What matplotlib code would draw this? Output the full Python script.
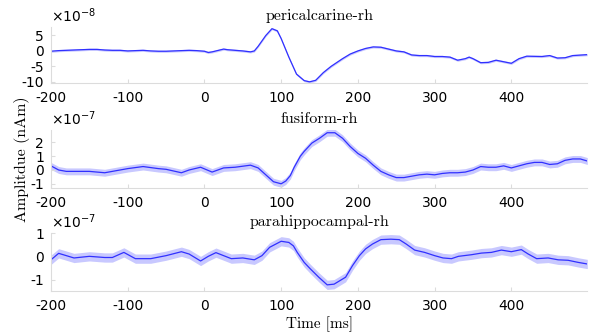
import numpy as np
import matplotlib
matplotlib.use('Agg')
import matplotlib.pyplot as plt

plt.rcParams['axes.unicode_minus'] = False

# pericalcarine-rh, units of 1e-8
t_peri = [-200, -190, -180, -170, -160, -150, -140, -130, -120, -110, -100, -90, -80,
          -70, -60, -50, -40, -30, -20, -10, 0, 5, 10, 20, 25, 30, 40, 50, 60, 65, 70,
          80, 88, 95, 100, 110, 120, 130, 137, 145, 155, 165, 180, 190, 200, 210, 220,
          230, 240, 250, 260, 270, 280, 290, 300, 310, 320, 330, 340, 345, 350, 360,
          370, 380, 390, 400, 410, 420, 440, 450, 460, 470, 480, 499]
v_peri = [-0.1, 0.1, 0.2, 0.3, 0.4, 0.5, 0.5, 0.3, 0.2, 0.2, 0.0, 0.1, 0.2,
          0.0, -0.1, -0.1, 0.0, 0.1, 0.2, 0.1, -0.1, -0.5, -0.3, 0.3, 0.6, 0.4, 0.2,
          0.0, -0.3, 0.0, 1.5, 5.0, 7.2, 6.5, 4.0, -2.0, -7.5, -9.6, -10.0, -9.5,
          -7.0, -5.0, -2.5, -1.0, 0.0, 0.8, 1.3, 1.2, 0.6, 0.0, -0.3, -1.3, -1.5,
          -1.5, -1.8, -1.8, -2.0, -3.0, -2.5, -2.0, -2.5, -3.8, -3.7, -3.0, -3.5,
          -4.0, -2.5, -1.7, -1.8, -1.5, -2.3, -2.2, -1.5, -1.2]
err_peri = 0.35

# fusiform-rh, units of 1e-7
t_fusi = [-200, -190, -180, -150, -130, -110, -100, -80, -60, -50, -30, -20, -5,
          10, 25, 40, 60, 70, 80, 90, 100, 106, 112, 117, 125, 130, 140, 150, 160,
          170, 180, 190, 200, 210, 220, 230, 240, 250, 260, 270, 280, 290, 300,
          310, 320, 330, 340, 350, 360, 370, 380, 390, 400, 410, 420, 430, 440,
          450, 460, 470, 480, 490, 499]
v_fusi = [0.3, 0.0, -0.1, -0.1, -0.2, 0.0, 0.1, 0.25, 0.1, 0.05, -0.2, 0.0, 0.2,
          -0.15, 0.15, 0.2, 0.35, 0.15, -0.35, -0.85, -1.0, -0.8, -0.4, 0.2, 1.0,
          1.35, 1.95, 2.3, 2.7, 2.7, 2.3, 1.7, 1.2, 0.85, 0.35, -0.1, -0.35, -0.55,
          -0.55, -0.45, -0.35, -0.3, -0.35, -0.25, -0.2, -0.2, -0.15, 0.0, 0.25,
          0.2, 0.2, 0.3, 0.15, 0.3, 0.45, 0.55, 0.55, 0.4, 0.45, 0.7, 0.8, 0.8, 0.65]
err_fusi = 0.25

# parahippocampal-rh, units of 1e-7
t_para = [-200, -190, -180, -170, -150, -130, -120, -105, -90, -70, -50, -30, -20,
          -5, 5, 15, 25, 35, 50, 65, 75, 85, 100, 110, 116, 121, 130, 138, 149,
          160, 169, 184, 193, 202, 210, 219, 230, 243, 254, 263, 274, 287, 300,
          311, 322, 331, 348, 361, 374, 387, 400, 413, 422, 433, 448, 461, 474,
          487, 499]
v_para = [-0.15, 0.13, 0.03, -0.07, 0.0, -0.05, -0.05, 0.17, -0.1, -0.1, 0.03,
          0.2, 0.1, -0.2, 0.0, 0.16, 0.03, -0.1, -0.07, -0.15, 0.03, 0.39, 0.65,
          0.6, 0.45, 0.17, -0.26, -0.54, -0.9, -1.23, -1.2, -0.9, -0.4, 0.03, 0.32,
          0.53, 0.72, 0.74, 0.72, 0.53, 0.27, 0.17, 0.03, -0.07, -0.1, 0.0, 0.07,
          0.14, 0.17, 0.27, 0.2, 0.29, 0.1, -0.1, -0.07, -0.15, -0.17, -0.26, -0.33]
err_para = 0.2

titles = ['pericalcarine-rh', 'fusiform-rh', 'parahippocampal-rh']
exponents = [-8, -7, -7]
ylims = [(-10.4, 7.7), (-1.3, 2.9), (-1.5, 1.0)]
yticks = [[-10, -5, 0, 5], [-1, 0, 1, 2], [-1, 0, 1]]
xticks = [-200, -100, 0, 100, 200, 300, 400]

series = [(t_peri, v_peri, err_peri), (t_fusi, v_fusi, err_fusi),
          (t_para, v_para, err_para)]
boxes = [[0.0864, 0.752, 0.909, 0.167],
         [0.0864, 0.439, 0.909, 0.173],
         [0.0864, 0.131, 0.909, 0.173]]

line_col = '#3030ff'
band_col = '#c8c8ff'
axis_col = '#dcdcdc'
serif = 'cmr10'

fig = plt.figure(figsize=(5.9, 3.35), dpi=100)

for i, (t, v, e) in enumerate(series):
    ax = fig.add_axes(boxes[i])
    s = 10.0 ** exponents[i]
    t = np.array(t)
    v = np.array(v) * s
    ax.fill_between(t, v - e * s, v + e * s, color=band_col, lw=0)
    ax.plot(t, v, color=line_col, lw=0.9)
    ax.set_xlim(-200, 499)
    ax.set_ylim(ylims[i][0] * s, ylims[i][1] * s)
    ax.set_xticks(xticks)
    ax.set_xticklabels([str(x) for x in xticks])
    ax.set_yticks(np.array(yticks[i]) * s)
    ax.set_yticklabels([str(y) for y in yticks[i]])
    ax.text(0.0, 1.03, r'$\times10^{%d}$' % exponents[i], transform=ax.transAxes,
            fontsize=10, ha='left', va='bottom')
    for side in ['top', 'right']:
        ax.spines[side].set_visible(False)
    for side in ['left', 'bottom']:
        ax.spines[side].set_color(axis_col)
    ax.tick_params(direction='in', length=3, color=axis_col, labelsize=10)
    ax.tick_params(axis='x', pad=6)
    ax.tick_params(axis='y', pad=5)
    ax.set_title(titles[i], fontfamily=serif, fontsize=11.5, pad=5)
    if i == 1:
        ax.set_ylabel('Amplitdue (nAm)', fontfamily=serif, fontsize=11.5, labelpad=0)
    if i == 2:
        ax.set_xlabel('Time [ms]', fontfamily=serif, fontsize=11, labelpad=2)

fig.savefig('out.png', dpi=100)
